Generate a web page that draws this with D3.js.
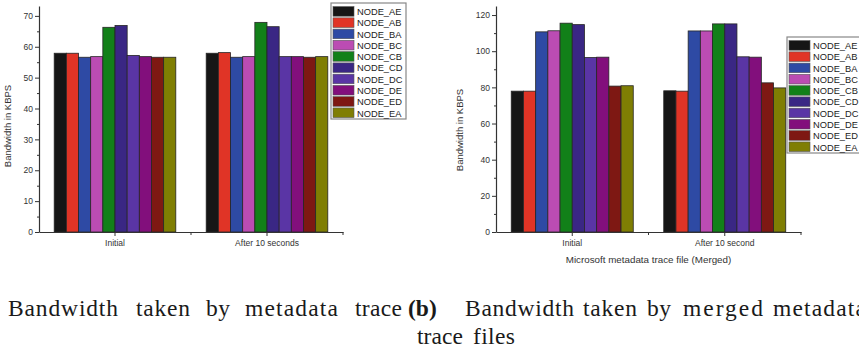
<!DOCTYPE html>
<html>
<head>
<meta charset="utf-8">
<script src="https://cdn.jsdelivr.net/npm/d3@7"></script>
<style>
  body { margin: 0; background: #fff; }
  svg { display: block; }
  text { font-family: Arial, "Liberation Sans", sans-serif; }
</style>
</head>
<body>
<script>
// series names + colours (shared by both panels)
var nodeNames = ["NODE_AE", "NODE_AB", "NODE_BA", "NODE_BC", "NODE_CB",
                 "NODE_CD", "NODE_DC", "NODE_DE", "NODE_ED", "NODE_EA"];
var nodeColors = ["#161616", "#e03426", "#2e4aa4", "#bb4cb3", "#128019",
                  "#3a2784", "#5a35a5", "#820f7c", "#7e1813", "#7f7e03"];

// (a) metadata trace
var metaCats = ["Initial", "After 10 seconds"];
var metaInitial = [57.9, 57.9, 56.6, 56.8, 66.3, 66.9, 57.2, 56.8, 56.6, 56.6];
var metaAfter   = [57.9, 58.1, 56.6, 56.8, 67.9, 66.5, 56.8, 56.8, 56.6, 56.8];
var metaTicks = [0, 10, 20, 30, 40, 50, 60, 70];

// (b) merged metadata trace
var mergedCats = ["Initial", "After 10 second"];
var mergedInitial = [77.9, 77.9, 110.7, 111.3, 115.5, 114.7, 96.5, 96.7, 80.7, 80.9];
var mergedAfter   = [78.1, 77.9, 111.2, 111.2, 115.1, 115.1, 96.9, 96.7, 82.5, 79.7];
var mergedTicks = [0, 20, 40, 60, 80, 100, 120];

var width = 859, height = 350;

var svg = d3.select("body").append("svg")
    .attr("width", width)
    .attr("height", height);

function drawPanel(p) {
  var g = svg.append("g");

  var x0 = d3.scaleBand().domain(p.cats).range([p.left, p.right])
      .paddingInner(0.2).paddingOuter(0.1);
  var x1 = d3.scaleBand().domain(nodeNames).range([0, x0.bandwidth()]);
  var y = d3.scaleLinear().domain([0, p.yMax]).range([p.bottom, p.top]);

  // bars
  var groups = g.selectAll(".grp")
      .data(p.cats.map(function(c, i) { return { cat: c, vals: p.series[i] }; }))
      .enter().append("g")
      .attr("transform", function(d) { return "translate(" + x0(d.cat) + ",0)"; });

  groups.selectAll("rect")
      .data(function(d) { return d.vals.map(function(v, j) { return { name: nodeNames[j], v: v, c: nodeColors[j] }; }); })
      .enter().append("rect")
      .attr("x", function(d) { return x1(d.name); })
      .attr("y", function(d) { return y(d.v); })
      .attr("width", x1.bandwidth())
      .attr("height", function(d) { return y(0) - y(d.v); })
      .attr("fill", function(d) { return d.c; })
      .attr("stroke", "#262626")
      .attr("stroke-width", 0.8);

  // y axis (major + minor)
  var step = p.ticks[1] - p.ticks[0];
  var minor = p.ticks.map(function(t) { return t + step / 2; }).filter(function(t) { return t < p.yMax; });
  g.append("g")
      .attr("transform", "translate(" + p.left + ",0)")
      .call(d3.axisLeft(y).tickValues(minor).tickSize(2).tickSizeOuter(0).tickFormat(""))
      .call(function(a) { a.select(".domain").remove(); });
  var ya = g.append("g")
      .attr("transform", "translate(" + p.left + ",0)")
      .call(d3.axisLeft(y).tickValues(p.ticks).tickSize(4).tickSizeOuter(0).tickPadding(2));
  ya.selectAll("text").attr("font-size", "8.5px").attr("fill", "#333");

  // x axis
  var xa = g.append("g")
      .attr("transform", "translate(0," + p.bottom + ")")
      .call(d3.axisBottom(x0).tickSize(4).tickSizeOuter(0).tickPadding(4));
  xa.selectAll("text").attr("font-size", "8.5px").attr("fill", "#333");
  xa.selectAll(".boundary")
      .data(p.cats)
      .enter().append("line")
      .attr("x1", function(c) { return x0(c) + x0.bandwidth() / 2 + x0.step() / 2; })
      .attr("x2", function(c) { return x0(c) + x0.bandwidth() / 2 + x0.step() / 2; })
      .attr("y1", 0).attr("y2", 3)
      .attr("stroke", "#333");

  svg.selectAll(".domain").attr("stroke", "#333").attr("stroke-width", 1.2);
  svg.selectAll(".tick line").attr("stroke", "#333");

  // y title
  g.append("text")
      .attr("transform", "translate(" + p.yTitleX + "," + p.yTitleY + ") rotate(-90)")
      .attr("text-anchor", "middle")
      .attr("font-size", "9.5px")
      .attr("fill", "#333")
      .text("Bandwidth in KBPS");

  if (p.xTitle) {
    g.append("text")
        .attr("x", (p.left + p.right) / 2)
        .attr("y", p.bottom + 31)
        .attr("text-anchor", "middle")
        .attr("font-size", "9.8px")
        .attr("fill", "#333")
        .text(p.xTitle);
  }

  // legend
  var lg = g.append("g").attr("transform", "translate(" + p.legX + "," + p.legY + ")");
  lg.append("rect")
      .attr("width", p.legW).attr("height", 116)
      .attr("fill", "#fff")
      .attr("stroke", "#888").attr("stroke-width", 1.2);
  var row = lg.selectAll(".row")
      .data(nodeNames)
      .enter().append("g")
      .attr("transform", function(d, i) { return "translate(2," + (3.6 + i * 11.26) + ")"; });
  row.append("rect")
      .attr("width", 21).attr("height", 9.6)
      .attr("fill", function(d, i) { return nodeColors[i]; })
      .attr("stroke", "#555").attr("stroke-width", 0.6);
  row.append("text")
      .attr("x", 24).attr("y", 8.6)
      .attr("font-size", "9.3px")
      .attr("fill", "#222")
      .text(function(d) { return d; });
}

drawPanel({
  left: 39, right: 343, top: 6, bottom: 232, yMax: 73.2,
  cats: metaCats, series: [metaInitial, metaAfter], ticks: metaTicks,
  yTitleX: 11, yTitleY: 126,
  legX: 331, legY: 3, legW: 75
});

drawPanel({
  left: 496, right: 801, top: 6, bottom: 232, yMax: 125,
  cats: mergedCats, series: [mergedInitial, mergedAfter], ticks: mergedTicks,
  yTitleX: 463, yTitleY: 130,
  xTitle: "Microsoft metadata trace file (Merged)",
  legX: 787, legY: 37, legW: 80
});

// captions: justified LaTeX-style, so each word is placed (and sized) as in the reference
var captionWords = [
  { t: "Bandwidth", x: 8, w: 110, y: 316 }, { t: "taken", x: 136, w: 54, y: 316 },
  { t: "by", x: 206, w: 24, y: 316 }, { t: "metadata", x: 245, w: 93, y: 316 },
  { t: "trace", x: 355, w: 47, y: 316 }, { t: "(b)", x: 408, w: 0, y: 316, bold: true },
  { t: "Bandwidth", x: 465, w: 109, y: 316 }, { t: "taken", x: 583, w: 54, y: 316 },
  { t: "by", x: 647, w: 24, y: 316 }, { t: "merged", x: 683, w: 80, y: 316 },
  { t: "metadata", x: 773, w: 93, y: 316 },
  { t: "trace", x: 417, w: 46, y: 344 }, { t: "files", x: 473, w: 42, y: 344 }
];
svg.selectAll(".cap")
    .data(captionWords)
    .enter().append("text")
    .attr("x", function(d) { return d.x; })
    .attr("y", function(d) { return d.y; })
    .attr("textLength", function(d) { return d.w || null; })
    .attr("lengthAdjust", "spacing")
    .style("font-family", "'Liberation Serif', 'DejaVu Serif', serif")
    .attr("font-size", "23.5px")
    .attr("font-weight", function(d) { return d.bold ? "bold" : "normal"; })
    .attr("fill", "#1a1a1a")
    .text(function(d) { return d.t; });
</script>
</body>
</html>
